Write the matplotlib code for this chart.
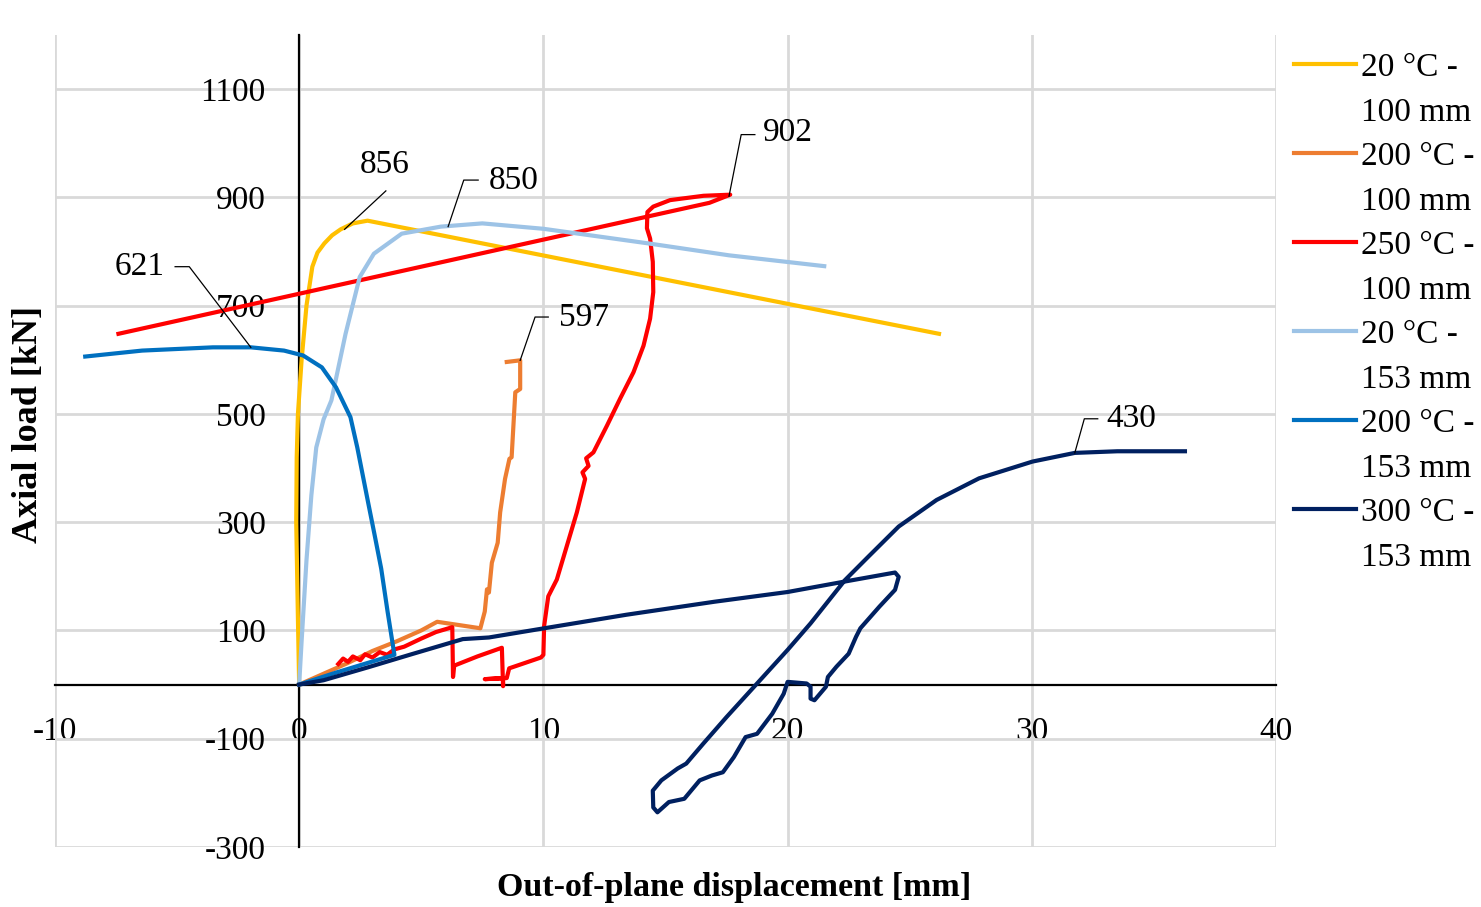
import matplotlib
matplotlib.use("Agg")
import matplotlib.pyplot as plt
from matplotlib.lines import Line2D

plt.rcParams['font.family'] = ['Liberation Serif', 'DejaVu Serif']
plt.rcParams['axes.unicode_minus'] = False

# series data (x = out-of-plane displacement [mm], y = axial load [kN])
yel_x = [0.0, -0.05, -0.12, -0.1, -0.05, 0.1, 0.3, 0.54, 0.75, 1.03, 1.35, 1.7, 2.2, 2.8, 26.2]
yel_y = [0, 120, 300, 420, 500, 600, 700, 772, 798, 815, 830, 841, 852, 857, 648]

org_x = [0.0, 1.0, 2.0, 3.0, 4.0, 5.0, 5.65, 7.42, 7.6, 7.69, 7.77, 7.89, 8.13, 8.23, 8.43,
         8.61, 8.7, 8.85, 9.05, 9.05, 8.5]
org_y = [0, 20, 40, 62, 80, 100, 116, 104, 135, 176, 170, 225, 262, 318, 380,
         417, 420, 540, 546, 599, 596]

red_x = [1.6, 1.8, 2.0, 2.2, 2.5, 2.7, 3.0, 3.3, 3.6, 3.9, 4.3, 5.0, 5.6, 6.27, 6.3, 6.35,
         7.3, 8.3, 8.35, 8.35, 7.6, 8.5, 8.6, 9.9, 10.0, 10.03, 10.2, 10.55, 10.96, 11.37,
         11.71, 11.6, 11.85, 11.75, 12.05, 12.6, 13.14, 13.69, 14.1, 14.37, 14.5, 14.48,
         14.37, 14.24, 14.26, 14.5, 15.19, 16.56, 17.65, 16.8, -7.4]
red_y = [38, 48, 42, 52, 45, 56, 50, 60, 55, 65, 70, 85, 97, 106, 14, 35,
         52, 68, -3, 12, 10, 12, 30, 50, 55, 108, 163, 194, 256, 318,
         380, 392, 404, 418, 429, 478, 528, 577, 626, 676, 725, 781,
         824, 843, 873, 883, 895, 903, 905, 890, 648]

lbl_x = [0.0, 0.1, 0.3, 0.5, 0.7, 1.0, 1.32, 1.9, 2.48, 3.06, 4.2, 5.8, 7.5, 10.0, 14.3, 17.6, 21.5]
lbl_y = [0, 80, 230, 350, 438, 490, 525, 648, 753, 796, 833, 846, 852, 842, 815, 793, 773]

blu_x = [0.0, 1.5, 3.9, 3.62, 3.36, 3.1, 2.83, 2.38, 2.1, 1.51, 0.93, 0.16, -0.62, -1.98,
         -3.53, -6.43, -8.76]
blu_y = [0, 22, 55, 135, 214, 274, 335, 438, 494, 549, 586, 608, 617, 623,
         623, 617, 606]

nav_x = [0.0, 1.0, 2.83, 4.6, 6.7, 7.77, 9.9, 13.4, 17.0, 20.0, 22.3, 24.4, 24.55, 24.4,
         23.76, 22.98, 22.8, 22.5, 22.0, 21.65, 21.57, 21.1, 20.94, 20.94, 20.78, 20.0,
         19.84, 19.37, 18.75, 18.28, 17.8, 17.35, 16.9, 16.4, 15.77, 15.14, 14.67, 14.5,
         14.48, 14.83, 15.5, 15.85, 16.55, 17.5, 18.75, 20.0, 20.94, 22.35, 23.3, 24.55,
         26.1, 27.84, 30.03, 31.76, 33.5, 36.27]
nav_y = [0, 8, 32, 56, 84, 87, 103, 129, 153, 171, 190, 207, 199, 175,
         144, 104, 88, 57, 33, 14, -4, -29, -26, -4, 2, 5,
         -17, -54, -91, -97, -134, -162, -168, -177, -211, -217, -236, -227,
         -196, -177, -155, -146, -109, -60, 2, 64, 113, 193, 236, 292,
         341, 381, 412, 428, 431, 431]

colors = ['#FFC000', '#ED7D31', '#FF0000', '#9DC3E6', '#0070C0', '#002060']
temps = ['20 °C -', '200 °C -', '250 °C -', '20 °C -', '200 °C -', '300 °C -']
lengths = ['100 mm', '100 mm', '100 mm', '153 mm', '153 mm', '153 mm']
xs_all = [yel_x, org_x, red_x, lbl_x, blu_x, nav_x]
ys_all = [yel_y, org_y, red_y, lbl_y, blu_y, nav_y]

# peak labels: text, leader path, text position, alignment
peak_text = ['856', '850', '621', '597', '902', '430']
leader_x = [[1.86, 3.55], [6.1, 6.74, 7.33], [-1.98, -4.5, -5.08], [9.05, 9.66, 10.2],
            [17.6, 18.1, 18.66], [31.76, 32.15, 32.7]]
leader_y = [[841, 912], [846, 932, 932], [623, 772, 772], [599, 679, 679],
            [902, 1016, 1016], [428, 491, 491]]
text_pos = [(3.5, 960), (7.75, 930), (-5.5, 772), (10.65, 677), (19.0, 1020), (33.05, 491)]
text_ha = ['center', 'left', 'right', 'left', 'left', 'left']

x_ticks = [-10, 0, 10, 20, 30, 40]
y_ticks = [-300, -100, 100, 300, 500, 700, 900, 1100]

fig = plt.figure(figsize=(14.81, 9.07), dpi=100)
ax = fig.add_axes([0.0371, 0.0662, 0.8245, 0.8952])

for xs, ys, c in zip(xs_all, ys_all, colors):
    ax.plot(xs, ys, color=c, lw=3, solid_joinstyle='round', zorder=3)

for t, lx, ly, (tx, ty), ha in zip(peak_text, leader_x, leader_y, text_pos, text_ha):
    ax.plot(lx, ly, color='black', lw=0.9, zorder=4)
    ax.text(tx, ty, t, ha=ha, va='center', fontsize=24, zorder=5)

ax.set_xlim(-10, 40)
ax.set_ylim(-300, 1200)
ax.set_xticks(x_ticks)
ax.set_yticks(y_ticks)
ax.grid(True, color='#D9D9D9', lw=2)
ax.set_axisbelow(True)

ax.spines['left'].set_position(('data', 0))
ax.spines['bottom'].set_position(('data', 0))
ax.spines['right'].set_visible(False)
ax.spines['top'].set_visible(False)
for s in ('left', 'bottom'):
    ax.spines[s].set_color('black')
    ax.spines[s].set_linewidth(1.6)
    ax.spines[s].set_zorder(2.5)

ax.tick_params(axis='both', length=0, labelsize=24)
ax.tick_params(axis='y', pad=24)
ax.tick_params(axis='x', pad=23)

fig.text(0.496, 0.022, 'Out-of-plane displacement [mm]', ha='center', va='center',
         fontsize=24.5, fontweight='bold')
fig.text(0.019, 0.532, 'Axial load [kN]', ha='center', va='center', rotation=90,
         fontsize=26, fontweight='bold')

# legend: each series takes two rows, the line sits on the first row
handles, labels = [], []
for c, t, l in zip(colors, temps, lengths):
    handles.append(Line2D([], [], color=c, lw=3))
    labels.append(t)
    handles.append(Line2D([], [], color='none'))
    labels.append(l)
leg = ax.legend(handles, labels, loc='upper left', bbox_to_anchor=(0.874, 0.942),
                bbox_transform=fig.transFigure, frameon=False, fontsize=24,
                handlelength=1.85, handletextpad=0.15, labelspacing=0.42,
                borderaxespad=0, borderpad=0)

fig.savefig('out.png', dpi=100)
